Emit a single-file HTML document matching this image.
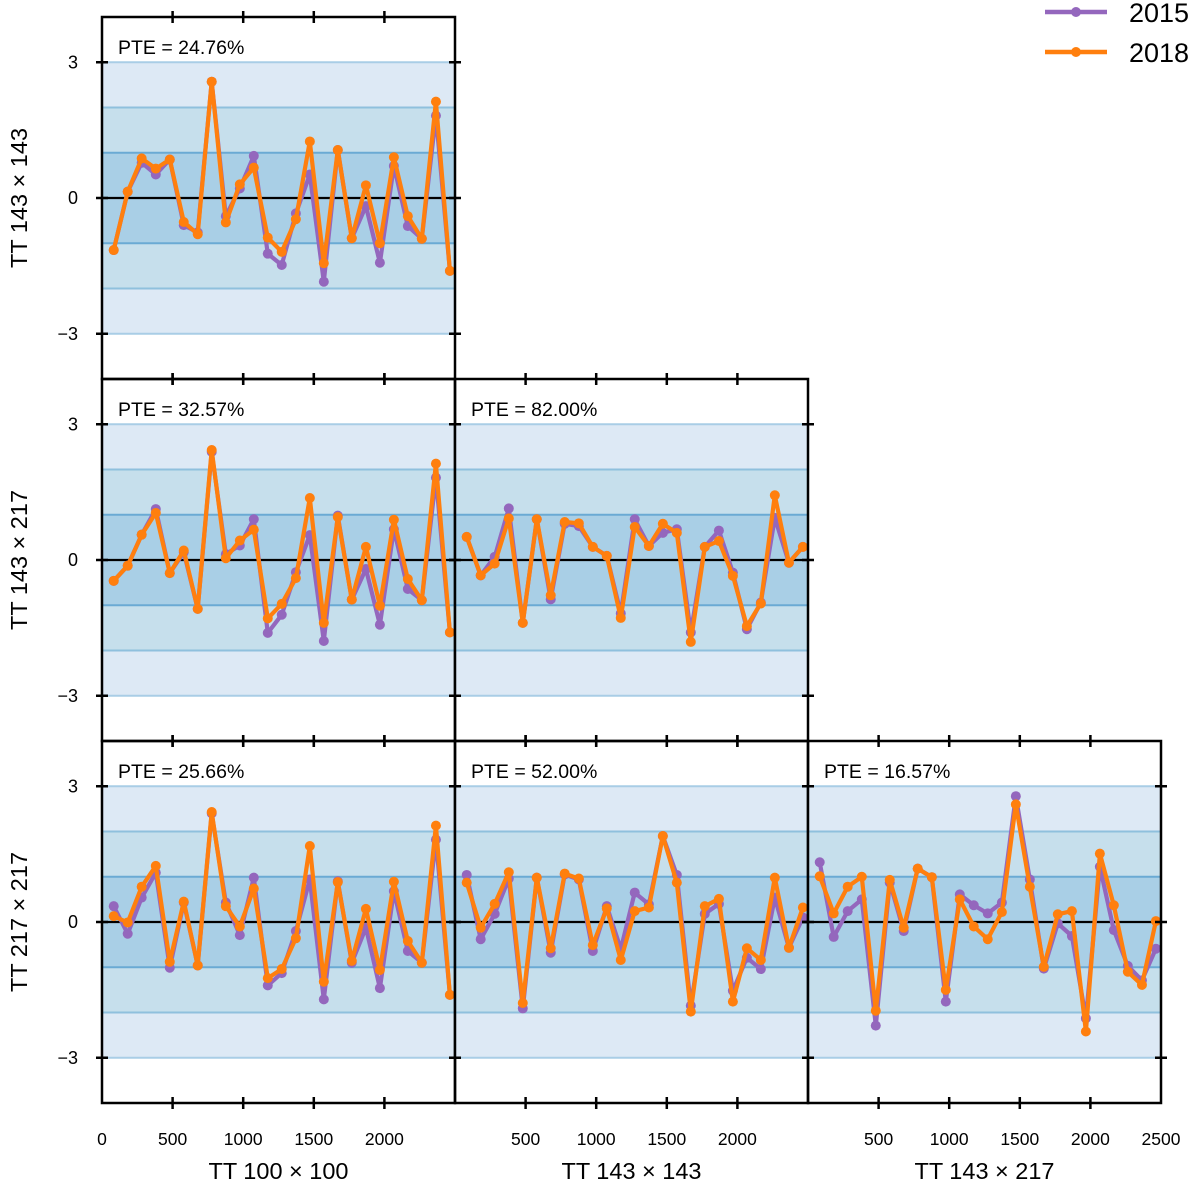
<!DOCTYPE html>
<html><head><meta charset="utf-8"><style>
html,body{margin:0;padding:0;background:#fff;}
svg{display:block;font-family:"Liberation Sans",sans-serif;}
</style></head><body>
<svg id="chart" width="1200" height="1193" viewBox="0 0 1200 1193" xmlns="http://www.w3.org/2000/svg"></svg>
<script>
const binCenters=[83,182,281,381,480,579,678,777,877,976,1075,1174,1273,1373,1472,1571,1670,1769,1869,1968,2067,2166,2265,2365,2464];
const yTicks=[3,0,-3];
const xTickLabelsCol=[[0,500,1000,1500,2000],[500,1000,1500,2000],[500,1000,1500,2000,2500]];
const xTickMarks=[0,500,1000,1500,2000,2500];
const xLabels=["TT 100 \u00d7 100","TT 143 \u00d7 143","TT 143 \u00d7 217"];
const yLabels=["TT 143 \u00d7 143","TT 143 \u00d7 217","TT 217 \u00d7 217"];
const pteR1C1="PTE = 24.76%", pteR2C1="PTE = 32.57%", pteR2C2="PTE = 82.00%", pteR3C1="PTE = 25.66%", pteR3C2="PTE = 52.00%", pteR3C3="PTE = 16.57%";
const p2015_r1c1=[-1.15,0.14,0.78,0.52,0.85,-0.60,-0.76,2.57,-0.40,0.21,0.93,-1.23,-1.48,-0.34,0.52,-1.85,1.06,-0.89,-0.18,-1.43,0.71,-0.62,-0.90,1.82,-1.61];
const p2018_r1c1=[-1.15,0.14,0.875,0.65,0.85,-0.53,-0.80,2.57,-0.54,0.30,0.67,-0.875,-1.19,-0.47,1.25,-1.44,1.06,-0.89,0.28,-1.00,0.90,-0.40,-0.90,2.13,-1.61];
const p2015_r2c1=[-0.46,-0.125,0.56,1.125,-0.29,0.17,-1.08,2.39,0.13,0.32,0.90,-1.61,-1.21,-0.27,0.55,-1.79,0.98,-0.875,-0.20,-1.43,0.68,-0.64,-0.89,1.82,-1.60];
const p2018_r2c1=[-0.46,-0.125,0.56,1.04,-0.29,0.21,-1.08,2.43,0.04,0.43,0.67,-1.29,-0.97,-0.40,1.37,-1.39,0.95,-0.875,0.29,-1.01,0.89,-0.42,-0.89,2.13,-1.60];
const p2015_r2c2=[0.51,-0.34,0.07,1.14,-1.39,0.90,-0.87,0.80,0.75,0.29,0.09,-1.18,0.90,0.31,0.60,0.68,-1.60,0.29,0.65,-0.28,-1.53,-0.94,0.93,-0.06,0.29];
const p2018_r2c2=[0.51,-0.34,-0.08,0.92,-1.39,0.90,-0.78,0.84,0.81,0.29,0.09,-1.28,0.73,0.31,0.80,0.60,-1.81,0.29,0.42,-0.35,-1.46,-0.96,1.43,-0.06,0.29];
const p2015_r3c1=[0.35,-0.26,0.54,1.09,-1.01,0.43,-0.96,2.40,0.43,-0.29,0.98,-1.40,-1.13,-0.20,0.94,-1.71,0.90,-0.90,-0.125,-1.46,0.68,-0.64,-0.90,1.82,-1.61];
const p2018_r3c1=[0.13,-0.01,0.78,1.24,-0.88,0.45,-0.96,2.43,0.35,-0.10,0.74,-1.24,-1.04,-0.36,1.68,-1.32,0.88,-0.86,0.29,-1.06,0.89,-0.42,-0.90,2.13,-1.61];
const p2015_r3c2=[1.04,-0.38,0.18,0.96,-1.91,0.98,-0.68,1.05,0.94,-0.64,0.35,-0.60,0.65,0.39,1.90,1.04,-1.85,0.18,0.40,-1.52,-0.79,-1.04,0.54,-0.57,0.10];
const p2018_r3c2=[0.87,-0.125,0.40,1.10,-1.79,0.98,-0.58,1.07,0.96,-0.51,0.30,-0.84,0.24,0.32,1.90,0.87,-1.98,0.35,0.51,-1.76,-0.58,-0.84,0.98,-0.57,0.32];
const p2015_r3c3=[1.32,-0.33,0.24,0.50,-2.29,0.87,-0.20,1.18,0.99,-1.76,0.61,0.37,0.19,0.43,2.78,0.94,-1.03,-0.03,-0.31,-2.13,1.22,-0.18,-0.97,-1.29,-0.59];
const p2018_r3c3=[1.01,0.19,0.78,1.00,-1.96,0.93,-0.125,1.18,0.99,-1.50,0.50,-0.10,-0.38,0.22,2.60,0.78,-0.99,0.17,0.24,-2.42,1.51,0.37,-1.10,-1.39,0.02];

const panels=[
 {r:0,c:0,a:p2015_r1c1,b:p2018_r1c1,pte:pteR1C1},
 {r:1,c:0,a:p2015_r2c1,b:p2018_r2c1,pte:pteR2C1},
 {r:1,c:1,a:p2015_r2c2,b:p2018_r2c2,pte:pteR2C2},
 {r:2,c:0,a:p2015_r3c1,b:p2018_r3c1,pte:pteR3C1},
 {r:2,c:1,a:p2015_r3c2,b:p2018_r3c2,pte:pteR3C2},
 {r:2,c:2,a:p2015_r3c3,b:p2018_r3c3,pte:pteR3C3}
];
const NS="http://www.w3.org/2000/svg";
const svg=document.getElementById('chart');
function mk(tag,attrs,parent){const e=document.createElementNS(NS,tag);for(const k in attrs)e.setAttribute(k,attrs[k]);(parent||svg).appendChild(e);return e;}
const PX0=102, PW=353, PY0=17, PH=362;
function panelX(c){return PX0+c*PW;}
function panelY(r){return PY0+r*PH;}
function xs(c,v){return panelX(c)+v/2500*PW;}
function ys(r,v){return panelY(r)+PH/2-v*(PH/8);}

panels.forEach(p=>{
  const g=mk('g',{});
  
  
  const x0=panelX(p.c), x1=x0+PW;
  const bands=[[3,2,'#dde9f5'],[2,1,'#c6dfec'],[1,-1,'#a9cfe6'],[-1,-2,'#c6dfec'],[-2,-3,'#dde9f5']];
  bands.forEach(b=>{
    const rct=mk('rect',{x:x0,y:ys(p.r,b[0]),width:PW,height:ys(p.r,b[1])-ys(p.r,b[0]),fill:b[2]},g);
    
    
  });
  [[3,'#a9cde6'],[2,'#8fc0dd'],[1,'#6aaad4'],[-1,'#6aaad4'],[-2,'#8fc0dd'],[-3,'#a9cde6']].forEach(l=>{
    mk('line',{x1:x0,x2:x1,y1:ys(p.r,l[0]),y2:ys(p.r,l[0]),stroke:l[1],'stroke-width':2},g);
  });
  const zl=mk('line',{x1:x0,x2:x1,y1:ys(p.r,0),y2:ys(p.r,0),stroke:'#000','stroke-width':2.2},g);
  
  
  [[p.a,'#9467bd','2015'],[p.b,'#ff7f0e','2018']].forEach(s=>{
    const pts=s[0].map((v,i)=>xs(p.c,binCenters[i]).toFixed(1)+','+ys(p.r,v).toFixed(1)).join(' ');
    const pl=mk('polyline',{points:pts,fill:'none',stroke:s[1],'stroke-width':4.2,'stroke-linejoin':'round'},g);
    
    
    s[0].forEach((v,i)=>{
      const ci=mk('circle',{cx:xs(p.c,binCenters[i]),cy:ys(p.r,v),r:5,fill:s[1]},g);
      
      
    });
  });
  const t=mk('text',{x:x0+16,y:panelY(p.r)+37,'font-size':19.5,fill:'#000'},g);
  t.textContent=p.pte;
  
  
  const y0=panelY(p.r), y1=y0+PH;
  const fr=mk('rect',{x:x0,y:y0,width:PW,height:PH,fill:'none',stroke:'#000','stroke-width':2.5},g);
  
  
  xTickMarks.forEach(v=>{
    if(v===0||v===2500) return;
    const x=xs(p.c,v);
    mk('line',{x1:x,x2:x,y1:y0-6,y2:y0+6,stroke:'#000','stroke-width':2.5},g);
    mk('line',{x1:x,x2:x,y1:y1-6,y2:y1+6,stroke:'#000','stroke-width':2.5},g);
  });
  yTicks.forEach(v=>{
    const y=ys(p.r,v);
    mk('line',{x1:x0-6,x2:x0+6,y1:y,y2:y,stroke:'#000','stroke-width':2.5},g);
    mk('line',{x1:x1-6,x2:x1+6,y1:y,y2:y,stroke:'#000','stroke-width':2.5},g);
  });
});
for(let r=0;r<3;r++){
  yTicks.forEach(v=>{
    const t=mk('text',{x:78,y:ys(r,v)+6,'font-size':18,'text-anchor':'end'});
    t.textContent=(v<0?'\u2212':'')+Math.abs(v);
    
    
  });
  const cy=panelY(r)+PH/2;
  const t=mk('text',{x:0,y:0,'font-size':23.5,'text-anchor':'middle',transform:'translate(27,'+cy+') rotate(-90)'});
  t.textContent=yLabels[r];
  
  
}
for(let c=0;c<3;c++){
  xTickLabelsCol[c].forEach(v=>{
    const t=mk('text',{x:xs(c,v),y:1145,'font-size':17.5,'text-anchor':'middle'});
    t.textContent=v;
    
    
  });
  const t=mk('text',{x:panelX(c)+PW/2,y:1179,'font-size':23.5,'text-anchor':'middle'});
  t.textContent=xLabels[c];
  
  
}
[['2015','#9467bd',12],['2018','#ff7f0e',52]].forEach(l=>{
  const g=mk('g',{});
  
  
  mk('line',{x1:1045,x2:1107,y1:l[2],y2:l[2],stroke:l[1],'stroke-width':4.5},g);
  mk('circle',{cx:1076,cy:l[2],r:5,fill:l[1]},g);
  const t=mk('text',{x:1129,y:l[2]+10,'font-size':27},g);
  t.textContent=l[0];
});
</script>
</body></html>
